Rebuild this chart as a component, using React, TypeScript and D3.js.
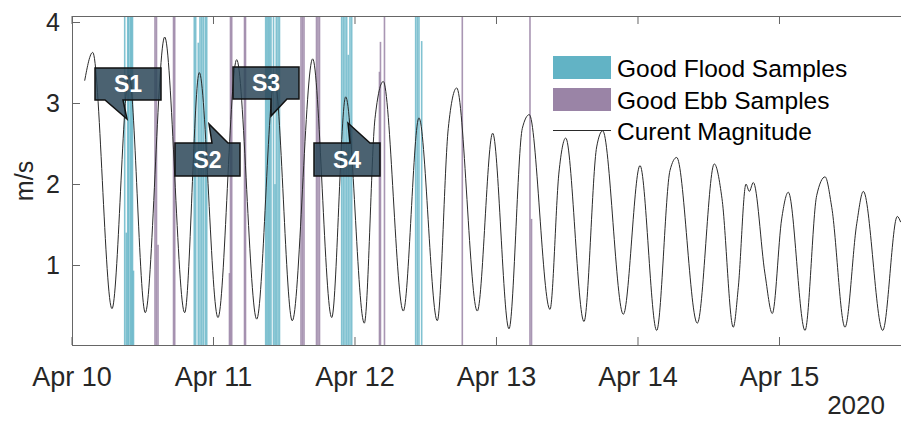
import React from "react";
import * as d3 from "d3";

// Current magnitude, hours after 2020-04-10 00:00 and speed in m/s
const curveHours = [2.15, 3.51, 6.78, 9.67, 12.43, 15.72, 19.11, 21.59, 24.76, 27.93, 31.33, 34.35, 37.36, 40.82, 44.05, 46.42, 49.58, 51.39, 52.8, 56.19, 58.85, 61.96, 63.82, 65.25, 68.74, 71.35, 74.12, 76.38, 77.56, 81.07, 82.6, 83.74, 86.84, 88.99, 90.01, 93.51, 96.34, 99.17, 101.43, 102.56, 106.06, 108.94, 110.25, 112.16, 113.01, 114.32, 114.88, 115.56, 117.54, 118.78, 120.37, 121.49, 124.33, 126.31, 127.73, 128.87, 131.11, 133.1, 134.22, 137.51, 139.98, 140.55];
const curveSpeed = [3.28, 3.63, 0.46, 3.35, 0.41, 3.82, 0.41, 3.38, 0.35, 3.54, 0.33, 3.3, 0.31, 3.55, 0.35, 3.08, 0.28, 2.81, 3.27, 0.43, 2.82, 0.31, 2.69, 3.19, 0.43, 2.63, 0.21, 2.69, 2.86, 0.45, 2.15, 2.57, 0.3, 2.46, 2.66, 0.39, 2.23, 0.19, 2.17, 2.33, 0.28, 2.25, 1.82, 0.23, 0.72, 2.0, 1.91, 2.02, 0.89, 0.4, 1.57, 1.9, 0.19, 1.86, 2.09, 1.71, 0.23, 1.51, 1.91, 0.19, 1.6, 1.53];

// Good flood samples (hours, bar height in m/s)
const floodHours = [8.94, 9.21, 9.45, 9.62, 9.89, 10.09, 10.26, 10.43, 20.74, 20.98, 21.42, 21.71, 22.0, 22.27, 22.61, 22.85, 32.85, 33.07, 33.29, 33.53, 33.75, 34.18, 34.43, 34.65, 34.94, 35.19, 45.74, 46.01, 46.3, 46.59, 46.86, 47.15, 47.44, 58.29, 58.57, 58.85, 59.31];
const floodHeight = [4.5, 1.4, 4.5, 4.5, 4.5, 4.5, 4.5, 0.93, 4.5, 4.5, 3.75, 4.5, 4.5, 4.5, 4.5, 4.5, 4.5, 4.5, 4.5, 4.5, 4.5, 4.5, 2.0, 4.5, 4.5, 4.5, 4.5, 4.5, 4.5, 4.5, 3.6, 4.5, 4.5, 4.5, 4.5, 4.5, 3.77];

// Good ebb samples (hours, bar height in m/s)
const ebbHours = [14.08, 14.33, 14.59, 17.22, 17.42, 26.71, 26.88, 27.09, 29.26, 29.43, 38.84, 39.09, 39.35, 41.47, 41.72, 41.98, 52.15, 52.32, 53.0, 66.2, 77.68, 77.94];
const ebbHeight = [4.5, 4.5, 1.25, 4.5, 4.5, 0.9, 4.5, 4.5, 4.5, 4.5, 4.5, 4.5, 4.5, 4.5, 4.5, 4.5, 3.39, 3.76, 4.5, 4.5, 4.5, 1.57];

const yTicks = [1, 2, 3, 4];
const legendLabels = ["Good Flood Samples", "Good Ebb Samples", "Curent Magnitude"];
const calloutLabels = ["S1", "S2", "S3", "S4"];

const START = new Date(2020, 3, 10, 0, 0, 0);
const toDate = (h: number) => new Date(START.getTime() + h * 3600 * 1000);

const W = 901;
const H = 421;
const left = 72;
const right = 901;
const top = 16;
const bottom = 345;

const FLOOD = "#62b3c5";
const EBB = "#9a84a6";
const FONT = "Liberation Sans, Arial, sans-serif";

export default function App() {
  const x = d3
    .scaleTime()
    .domain([START, toDate(140.44)])
    .range([left, 900]);
  const y = d3.scaleLinear().domain([0.01, 4.08]).range([bottom, top]);

  const days = d3.timeDay.range(START, toDate(141));

  const line = d3
    .line<number>()
    .x((_, i) => x(toDate(curveHours[i])))
    .y((d) => y(d))
    .curve(d3.curveMonotoneX);

  const barW = 1.6;

  const callouts = [
    { path: "M95,68 H161 V100 H123 L127,119 L105,100 H95 Z", tx: 128, ty: 84 },
    { path: "M175,143 H212 L209,124 L228,143 H240 V176 H175 Z", tx: 207.5, ty: 160 },
    { path: "M233,67 H299 V99 H287 L271,116 V99 H233 Z", tx: 266, ty: 83 },
    { path: "M314,143 H350 L348,123 L370,143 H380 V176 H314 Z", tx: 347, ty: 160 },
  ];

  return (
    <svg
      width={W}
      height={H}
      style={{ position: "absolute", left: 0, top: 0, background: "#fff" }}
      fontFamily={FONT}
    >
      <defs>
        <clipPath id="plot">
          <rect x={left} y={top} width={right - left} height={bottom - top} />
        </clipPath>
      </defs>

      <g clipPath="url(#plot)">
        {floodHours.map((h, i) => (
          <rect
            key={"f" + i}
            x={x(toDate(h)) - barW / 2}
            y={y(floodHeight[i])}
            width={barW}
            height={y(0.01) - y(floodHeight[i])}
            fill={FLOOD}
            fillOpacity={0.8}
          />
        ))}
        {ebbHours.map((h, i) => (
          <rect
            key={"e" + i}
            x={x(toDate(h)) - barW / 2}
            y={y(ebbHeight[i])}
            width={barW}
            height={y(0.01) - y(ebbHeight[i])}
            fill={EBB}
            fillOpacity={0.85}
          />
        ))}
        <path d={line(curveSpeed) || ""} fill="none" stroke="#2a2a2a" strokeWidth={1} />
      </g>

      {/* axes box and inward ticks */}
      <g stroke="#666" strokeWidth={1} fill="none">
        <line x1={left} y1={top + 0.5} x2={right} y2={top + 0.5} />
        <line x1={left} y1={bottom + 0.5} x2={right} y2={bottom + 0.5} />
        <line x1={left + 0.5} y1={top} x2={left + 0.5} y2={bottom + 1} />
        {days.map((d, i) => (
          <g key={"t" + i}>
            <line x1={x(d)} y1={bottom} x2={x(d)} y2={bottom - 8} />
            <line x1={x(d)} y1={top} x2={x(d)} y2={top + 8} />
          </g>
        ))}
        {yTicks.map((t) => (
          <line key={"y" + t} x1={left} y1={Math.round(y(t)) + 0.5} x2={left + 8} y2={Math.round(y(t)) + 0.5} />
        ))}
      </g>

      {/* tick labels */}
      <g fill="#262626">
        {days.map((d, i) => (
          <text key={"xl" + i} x={x(d)} y={386} textAnchor="middle" fontSize={27}>
            {d3.timeFormat("%b %d")(d).replace(/ 0/, " ")}
          </text>
        ))}
        <text x={885} y={414} textAnchor="end" fontSize={26}>2020</text>
        {yTicks.map((t) => (
          <text key={"yl" + t} x={60} y={y(t)} textAnchor="end" dominantBaseline="central" fontSize={25}>
            {t}
          </text>
        ))}
        <text transform="translate(33,181) rotate(-90)" textAnchor="middle" fontSize={25}>m/s</text>
      </g>

      {/* legend */}
      <g fontSize={24.5} fill="#000">
        <rect x={553} y={56} width={58} height={23} fill={FLOOD} />
        <rect x={553} y={88} width={58} height={23} fill={EBB} />
        <line x1={553} y1={130.5} x2={611} y2={130.5} stroke="#2a2a2a" strokeWidth={1} />
        <text x={617} y={77}>{legendLabels[0]}</text>
        <text x={617} y={108.5}>{legendLabels[1]}</text>
        <text x={617} y={140}>{legendLabels[2]}</text>
      </g>

      {/* sample callouts */}
      {callouts.map((c, i) => (
        <g key={"c" + i}>
          <path d={c.path} fill="#2c4658" fillOpacity={0.85} stroke="#111" strokeWidth={1.5} strokeLinejoin="miter" />
          <text
            x={c.tx}
            y={c.ty}
            fill="#fff"
            fontSize={23}
            fontWeight="bold"
            textAnchor="middle"
            dominantBaseline="central"
          >
            {calloutLabels[i]}
          </text>
        </g>
      ))}
    </svg>
  );
}
